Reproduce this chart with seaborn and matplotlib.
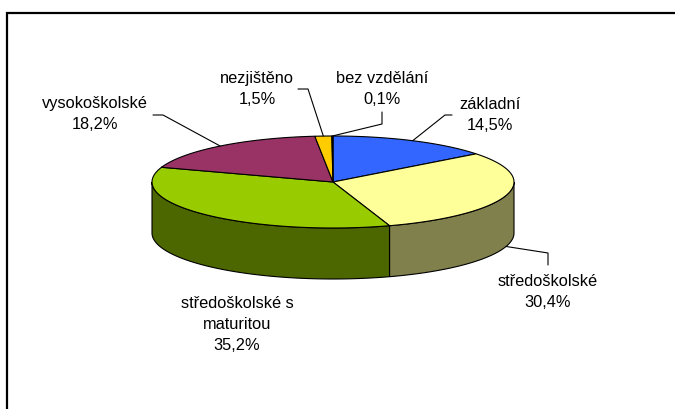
import numpy as np
import matplotlib
matplotlib.use("Agg")
import matplotlib.pyplot as plt
from matplotlib.patches import Polygon
import seaborn as sns

# data (percent shares, clockwise from 12 o'clock)
categories = ["základní", "středoškolské", "středoškolské s\nmaturitou",
              "vysokoškolské", "nezjištěno", "bez vzdělání"]
shares = [14.5, 30.4, 35.2, 18.2, 1.5, 0.1]
top_colors = ["#3366FF", "#FFFF99", "#99CC00", "#993366", "#FFCC00", "#800000"]
side_colors = ["#1A3380", "#80804C", "#4C6600", "#4C1A33", "#806600", "#400000"]

# label layout (pixel coordinates of the label centre and leader elbows)
label_pos = [(490, 115), (548, 292), (237, 325), (95, 114), (257, 89), (382, 89)]
leader_elbows = [
    [(452, 116), (445, 116)],
    [(548, 266), (548, 254)],
    None,
    [(153, 116), (163, 116)],
    [(298, 90), (308, 90)],
    [(382, 113), (382, 125)],
]

# pie geometry in pixels
cx, cy, rx, ry, depth = 333, 183, 181, 46, 51


def ell(theta, dy=0.0):
    t = np.radians(theta)
    return cx + rx * np.cos(t), cy - ry * np.sin(t) + dy


def arc(a_from, a_to, dy=0.0, n=80):
    th = np.linspace(a_from, a_to, n)
    x, y = ell(th, dy)
    return list(zip(x, y))


sns.set_theme(style="white")
plt.rcParams['font.family'] = ['Liberation Sans', 'DejaVu Sans']

fig = plt.figure(figsize=(6.75, 4.10), dpi=100)
ax = fig.add_axes([0, 0, 1, 1])
ax.set_xlim(0, 675)
ax.set_ylim(410, 0)
ax.axis('off')

total = sum(shares)
cum = np.concatenate([[0], np.cumsum(shares)])
starts = 90 - 360 * cum[:-1] / total
ends = 90 - 360 * cum[1:] / total

# side walls (visible front half only)
for a0, a1, col in zip(starts, ends, side_colors):
    hi, lo = min(a0, 0), max(a1, -180)
    if lo < hi:
        pts = arc(hi, lo) + arc(lo, hi, depth)
        ax.add_patch(Polygon(pts, closed=True, facecolor=col,
                             edgecolor='black', linewidth=0.8, zorder=1))

# top faces
for a0, a1, col in zip(starts, ends, top_colors):
    pts = [(cx, cy)] + arc(a0, a1)
    ax.add_patch(Polygon(pts, closed=True, facecolor=col,
                         edgecolor='black', linewidth=0.8, zorder=2))

# labels and leader lines
for i, (name, val) in enumerate(zip(categories, shares)):
    txt = f"{name}\n{val:.1f}".replace(".", ",") + "%"
    x, y = label_pos[i]
    ax.text(x, y, txt, ha='center', va='center', multialignment='center',
            fontsize=11.8, linespacing=1.5, color='black', zorder=4)
    if leader_elbows[i] is not None:
        mid = (starts[i] + ends[i]) / 2
        s = np.sin(np.radians(mid))
        ax_, ay_ = ell(mid, depth if s < 0 else 0)
        path = leader_elbows[i] + [(ax_, ay_)]
        ax.plot([p[0] for p in path], [p[1] for p in path],
                color='black', linewidth=0.8, zorder=3)

# chart frame (top and left edges visible)
ax.plot([7, 7, 680], [415, 14, 14], color='black', linewidth=1.6,
        solid_joinstyle='miter', zorder=5)

fig.savefig("out.png", dpi=100)
